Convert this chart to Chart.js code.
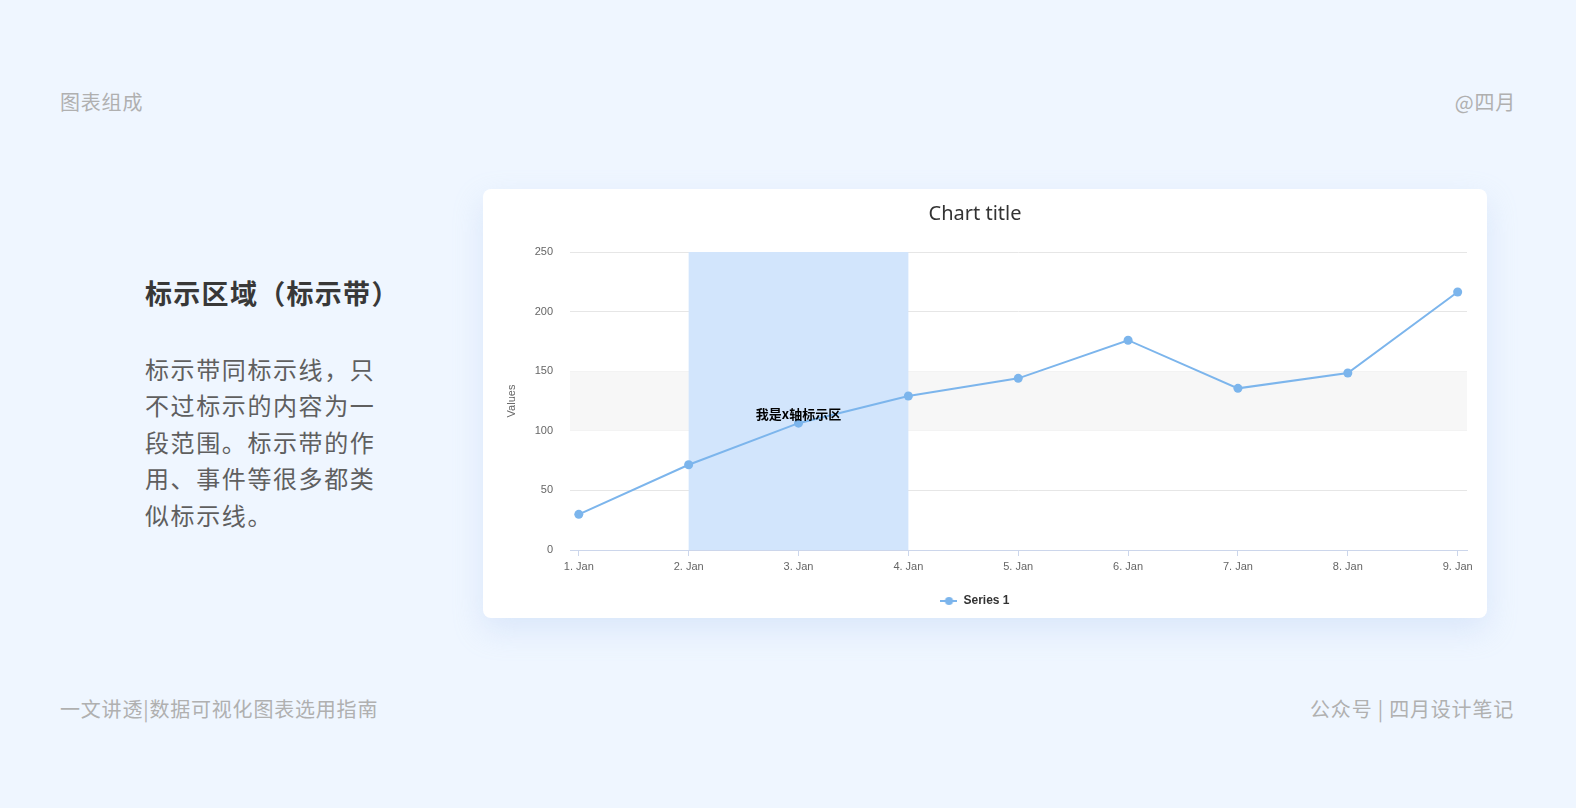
<!DOCTYPE html>
<html>
<head>
<meta charset="utf-8">
<script src="https://cdn.jsdelivr.net/npm/chart.js@4/dist/chart.umd.min.js"></script>
<style>
  html, body { margin:0; padding:0; }
  body { width:1576px; height:808px; background:#eff6ff; position:relative; overflow:hidden; font-family:"Noto Sans CJK SC","Noto Sans",sans-serif; }
  .t { position:absolute; white-space:nowrap; }
  .small { font-size:20px; line-height:22px; color:#b0b0b0; letter-spacing:0.8px; }
  #card { position:absolute; left:483px; top:189px; width:1004px; height:429px; background:#fff; border-radius:8px; box-shadow:0 12px 30px rgba(170,195,240,0.30); }
  #card canvas { display:block; }
</style>
</head>
<body>
<div class="t small" style="left:60px; top:91px;">图表组成</div>
<div class="t small" style="right:60px; top:91px;">@四月</div>
<div class="t" style="left:145px; top:278px; font-size:27px; line-height:30px; font-weight:bold; color:#383838; letter-spacing:1.3px;">标示区域（标示带）</div>
<div class="t" style="left:145px; top:351px; font-size:24px; line-height:36.4px; color:#5f5f5f; letter-spacing:1.6px;">标示带同标示线，只<br>不过标示的内容为一<br>段范围。标示带的作<br>用、事件等很多都类<br>似标示线。</div>
<div class="t small" style="left:60px; top:698px;">一文讲透|数据可视化图表选用指南</div>
<div class="t small" style="right:62px; top:698px;">公众号 | 四月设计笔记</div>
<div id="card"><canvas id="c" width="1004" height="429"></canvas></div>
<script>
const categories = ['1. Jan','2. Jan','3. Jan','4. Jan','5. Jan','6. Jan','7. Jan','8. Jan','9. Jan'];
const xValues = [1,2,3,4,5,6,7,8,9];
const series1 = [29.9, 71.5, 106.4, 129.2, 144.0, 176.0, 135.6, 148.5, 216.4];
const yTicks = [0, 50, 100, 150, 200, 250];
const xBand = [2, 4];
const yBand = [100, 150];
const bandLabel = '我是x轴标示区';
const seriesName = 'Series 1';

const lineColor = '#7cb5ec';

const icon = document.createElement('canvas');
icon.width = 17; icon.height = 10;
(function(){
  const c = icon.getContext('2d');
  c.strokeStyle = lineColor; c.lineWidth = 2;
  c.beginPath(); c.moveTo(0,5); c.lineTo(17,5); c.stroke();
  c.fillStyle = lineColor; c.beginPath(); c.arc(8.5,5,4,0,Math.PI*2); c.fill();
})();

const bandPlugin = {
  id: 'bands',
  beforeDatasetsDraw(chart) {
    const {ctx, chartArea: a, scales: {x, y}} = chart;
    ctx.save();
    ctx.fillStyle = '#f7f7f7';
    const yt = y.getPixelForValue(yBand[1]), yb = y.getPixelForValue(yBand[0]);
    ctx.fillRect(a.left, yt, a.right - a.left, yb - yt);
    ctx.fillStyle = '#d2e5fc';
    const x0 = x.getPixelForValue(xBand[0]), x1 = x.getPixelForValue(xBand[1]);
    ctx.fillRect(x0, a.top, x1 - x0, a.bottom - a.top);
    ctx.restore();
  },
  afterDatasetsDraw(chart) {
    const {ctx, chartArea: a, scales: {x}} = chart;
    const cx = x.getPixelForValue((xBand[0] + xBand[1]) / 2);
    ctx.save();
    ctx.fillStyle = '#000';
    ctx.font = 'bold 13px "Noto Sans CJK SC"';
    ctx.textAlign = 'center';
    ctx.textBaseline = 'middle';
    ctx.fillText(bandLabel, cx, (a.top + a.bottom) / 2 + 13);
    ctx.restore();
  }
};

new Chart(document.getElementById('c'), {
  type: 'line',
  data: {
    datasets: [{
      label: seriesName,
      data: xValues.map((v, i) => ({x: v, y: series1[i]})),
      borderColor: lineColor,
      backgroundColor: lineColor,
      borderWidth: 2,
      pointRadius: 4.5,
      pointBorderWidth: 0,
      pointBackgroundColor: lineColor,
      tension: 0,
      clip: false
    }]
  },
  options: {
    responsive: false,
    animation: false,
    layout: { padding: { left: 0, right: 20, top: 0, bottom: 1 } },
    plugins: {
      title: { display: true, text: 'Chart title', color: '#333',
        font: { family: 'Noto Sans', size: 20, weight: 'normal' },
        padding: { top: 13, bottom: 26 } },
      legend: { position: 'bottom',
        labels: { usePointStyle: true, pointStyle: icon, pointStyleWidth: 17,
          color: '#333', font: { family: 'Liberation Sans', size: 12, weight: 'bold' }, padding: 10 } },
      tooltip: { enabled: false }
    },
    scales: {
      x: {
        type: 'linear', min: 0.92, max: 9.085,
        afterBuildTicks: s => { s.ticks = xValues.map(v => ({value: v})); },
        ticks: { callback: v => categories[xValues.indexOf(v)], color: '#666',
          font: { family: 'Liberation Sans', size: 11 }, padding: 4, maxRotation: 0, autoSkip: false },
        grid: { drawOnChartArea: false, drawTicks: true, tickLength: 6, color: '#ccd6eb' },
        border: { display: true, color: '#ccd6eb', width: 1 },
        afterFit: s => { s.height = 35; }
      },
      y: {
        min: 0, max: 250,
        afterBuildTicks: s => { s.ticks = yTicks.map(v => ({value: v})); },
        ticks: { color: '#666', font: { family: 'Liberation Sans', size: 11 }, padding: 17 },
        grid: { color: '#e6e6e6', drawTicks: false },
        border: { display: false },
        title: { display: true, text: 'Values', color: '#666',
          font: { family: 'Liberation Sans', size: 11 }, padding: { top: 22, bottom: 0 } },
        afterFit: s => { s.width = 87; }
      }
    }
  },
  plugins: [bandPlugin]
});
</script>
</body>
</html>
